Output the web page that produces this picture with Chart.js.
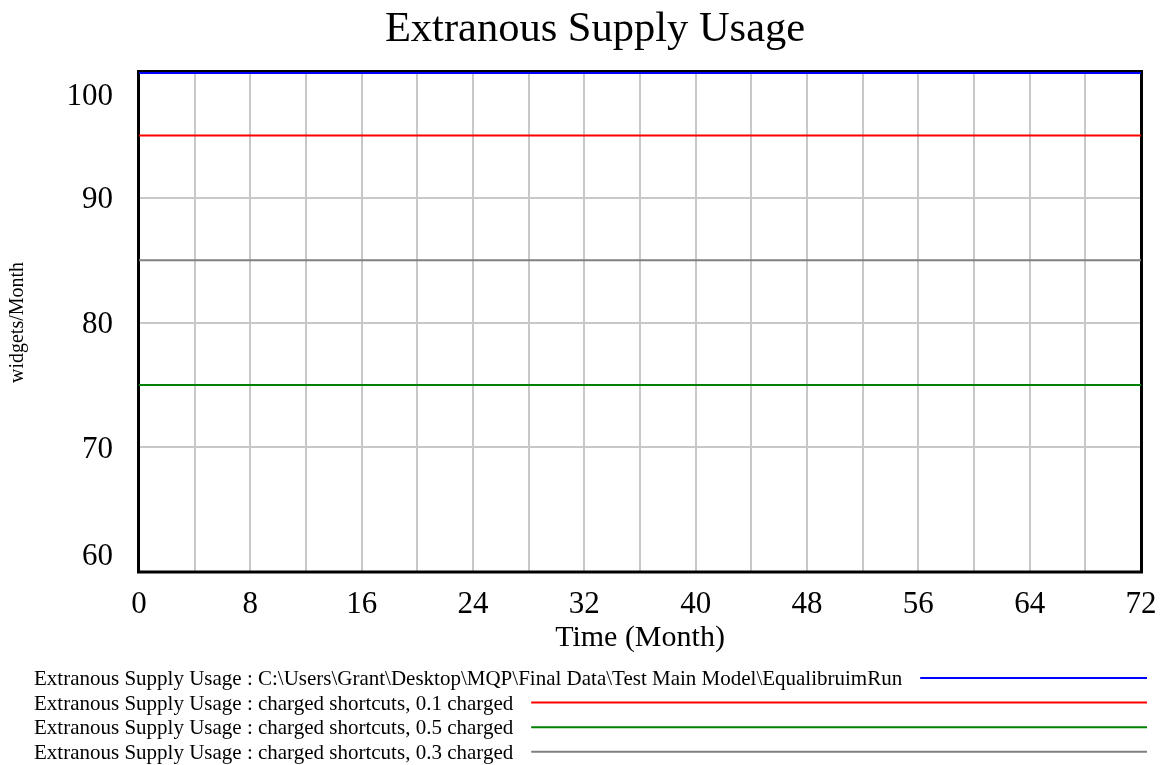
<!DOCTYPE html>
<html>
<head>
<meta charset="utf-8">
<title>Extranous Supply Usage</title>
<script src="https://cdn.jsdelivr.net/npm/chart.js@4/dist/chart.umd.min.js"></script>
<style>
  html, body { margin: 0; padding: 0; background: #ffffff; }
  canvas { display: block; }
</style>
</head>
<body>
<canvas id="chart" width="1164" height="765"></canvas>
<script>
// Simulation time (months) and the value of each run at those times
const months = [0, 8, 16, 24, 32, 40, 48, 56, 64, 72];
const equilibriumRun = [100, 100, 100, 100, 100, 100, 100, 100, 100, 100];
const charged01 = [95, 95, 95, 95, 95, 95, 95, 95, 95, 95];
const charged05 = [75, 75, 75, 75, 75, 75, 75, 75, 75, 75];
const charged03 = [85, 85, 85, 85, 85, 85, 85, 85, 85, 85];

const seriesLabels = [
  'Extranous Supply Usage : C:\\Users\\Grant\\Desktop\\MQP\\Final Data\\Test Main Model\\EqualibruimRun',
  'Extranous Supply Usage : charged shortcuts, 0.1 charged',
  'Extranous Supply Usage : charged shortcuts, 0.5 charged',
  'Extranous Supply Usage : charged shortcuts, 0.3 charged'
];
const seriesColors = ['#0000ff', '#ff0000', '#008000', '#808080'];

// Axis tick labels
const xTickLabels = [0, 8, 16, 24, 32, 40, 48, 56, 64, 72];
const yTickLabels = [60, 70, 80, 90, 100];

const chartTitle = 'Extranous Supply Usage';
const xAxisTitle = 'Time (Month)';
const yAxisTitle = 'widgets/Month';

const SERIF = '"Liberation Serif", "Times New Roman", Times, serif';

function toPoints(values) {
  return months.map((m, i) => ({ x: m, y: values[i] }));
}

const seriesValues = [equilibriumRun, charged01, charged05, charged03];

// Heavy black frame around the plot area
const framePlugin = {
  id: 'plotFrame',
  beforeDatasetsDraw(chart) {
    const { ctx, chartArea: a } = chart;
    ctx.save();
    ctx.strokeStyle = '#000000';
    ctx.lineWidth = 3;
    ctx.strokeRect(a.left - 0.5, a.top - 1.5, a.right - a.left + 1, a.bottom - a.top + 1.5);
    ctx.restore();
  }
};

// Title, y tick labels (end labels tucked inside the range) and the legend rows
const annotatePlugin = {
  id: 'annotate',
  afterDraw(chart) {
    const { ctx, chartArea: a } = chart;
    const ys = chart.scales.y;
    ctx.save();
    ctx.fillStyle = '#000000';

    ctx.font = '42.5px ' + SERIF;
    ctx.textAlign = 'center';
    ctx.textBaseline = 'alphabetic';
    ctx.fillText(chartTitle, 595, 41);

    ctx.font = '31px ' + SERIF;
    ctx.textAlign = 'right';
    yTickLabels.forEach(v => {
      const p = ys.getPixelForValue(v);
      let base = p + 10.5;
      if (v === ys.max) base = p + 32;
      if (v === ys.min) base = p - 7;
      ctx.fillText(String(v), a.left - 26, base);
    });

    ctx.font = '21px ' + SERIF;
    ctx.textAlign = 'left';
    chart.data.datasets.forEach((ds, i) => {
      const base = 685 + i * 24.6;
      ctx.fillStyle = '#000000';
      ctx.fillText(ds.label, 34, base);
      const w = ctx.measureText(ds.label).width;
      ctx.strokeStyle = ds.borderColor;
      ctx.lineWidth = 2;
      ctx.beginPath();
      ctx.moveTo(34 + w + 18, base - 7);
      ctx.lineTo(1147, base - 7);
      ctx.stroke();
    });
    ctx.restore();
  }
};

new Chart(document.getElementById('chart'), {
  type: 'line',
  data: {
    datasets: seriesValues.map((vals, i) => ({
      label: seriesLabels[i],
      data: toPoints(vals),
      borderColor: seriesColors[i],
      backgroundColor: seriesColors[i],
      borderWidth: 2,
      pointRadius: 0,
      tension: 0,
      fill: false,
      clip: 4
    }))
  },
  options: {
    responsive: false,
    animation: false,
    devicePixelRatio: 1,
    layout: { padding: { left: 0, right: 23, top: 73, bottom: 105 } },
    plugins: {
      legend: { display: false },
      title: { display: false },
      tooltip: { enabled: false }
    },
    scales: {
      x: {
        type: 'linear',
        min: 0,
        max: 72,
        grid: { color: '#c8c8c8', lineWidth: 2, drawTicks: false },
        border: { display: false },
        ticks: {
          stepSize: 4,
          autoSkip: false,
          maxRotation: 0,
          padding: 14,
          color: '#000000',
          font: { family: SERIF, size: 31 },
          callback: v => (xTickLabels.includes(v) ? String(v) : '')
        },
        title: {
          display: true,
          text: xAxisTitle,
          color: '#000000',
          font: { family: SERIF, size: 30 },
          padding: { top: 0, bottom: 4 }
        },
        afterFit(scale) {
          scale.height = 88;
          scale.paddingLeft = 0;
          scale.paddingRight = 0;
        }
      },
      y: {
        min: 60,
        max: 100,
        grid: { color: '#c8c8c8', lineWidth: 2, drawTicks: false },
        border: { display: false },
        ticks: { stepSize: 10, display: false },
        title: {
          display: true,
          text: yAxisTitle,
          color: '#000000',
          font: { family: SERIF, size: 20 },
          padding: { top: 6, bottom: 0 }
        },
        afterFit(scale) {
          scale.width = 139;
          scale.paddingTop = 0;
          scale.paddingBottom = 0;
        }
      }
    }
  },
  plugins: [framePlugin, annotatePlugin]
});
</script>
</body>
</html>
